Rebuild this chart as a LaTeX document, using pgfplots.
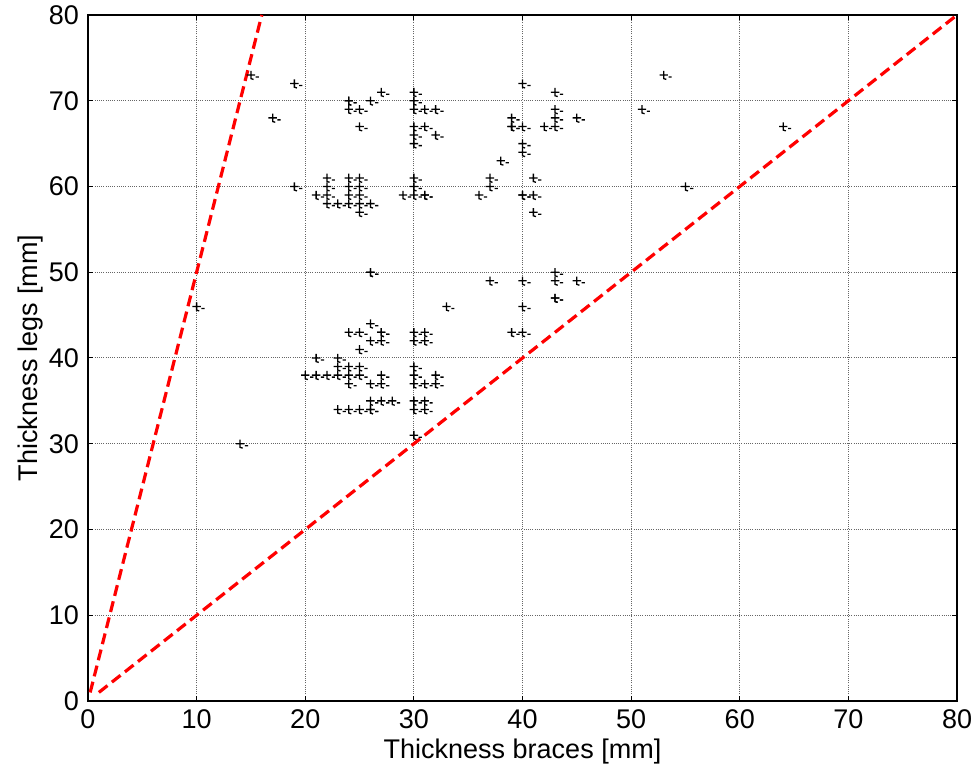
\documentclass[border=0pt]{standalone}
\usepackage{fontspec}
\setmainfont{Liberation Sans}
\usepackage{pgfplots}
\pgfplotsset{compat=1.18}

% marker like the MATLAB one: a plus with a small foot and dash
\pgfdeclareplotmark{tplus}{%
  \pgfpathmoveto{\pgfqpoint{-2.1pt}{0pt}}\pgfpathlineto{\pgfqpoint{2.1pt}{0pt}}%
  \pgfpathmoveto{\pgfqpoint{0pt}{2.1pt}}\pgfpathlineto{\pgfqpoint{0pt}{-1.8pt}}%
  \pgfpathlineto{\pgfqpoint{1.3pt}{-2.2pt}}%
  \pgfpathmoveto{\pgfqpoint{2.4pt}{-1.0pt}}\pgfpathlineto{\pgfqpoint{4.0pt}{-1.0pt}}%
  \pgfusepathqstroke}

\pgfplotstableread{
x y
15 73
19 72
17 68
19 60
24 70
24 70
24 69
25 69
25 67
26 70
27 71
30 71
30 70
30 69
30 67
30 66
30 65
31 69
32 69
31 67
32 66
21 59
22 61
22 60
22 59
22 58
23 58
24 61
24 60
24 59
24 58
25 61
25 60
25 59
25 58
25 57
26 58
29 59
30 61
30 60
30 59
31 59
31 59
40 72
43 71
53 73
51 69
43 69
43 68
43 67
42 67
45 68
39 68
39 67
39 67
40 67
40 65
40 64
38 63
37 61
37 60
36 59
40 59
40 59
41 59
41 61
41 57
64 67
55 60
37 49
40 49
43 50
43 49
43 47
43 47
45 49
33 46
40 46
39 43
40 43
26 50
26 50
10 46
14 30
26 44
24 43
25 43
26 42
27 43
27 43
27 42
25 41
30 43
31 43
30 42
31 42
21 40
23 40
23 39
20 38
21 38
22 38
23 38
24 38
25 38
24 39
25 39
24 37
26 37
27 37
27 38
30 39
30 38
30 37
31 37
32 38
32 37
23 34
24 34
25 34
26 34
26 34
26 35
27 35
28 35
30 35
31 35
30 34
31 34
30 31
}\braces

\begin{document}
\begin{tikzpicture}
\begin{axis}[
  name=ax,
  scale only axis,
  width=434.5pt,
  height=343pt,
  xmin=0, xmax=80,
  ymin=0, ymax=80,
  xtick={0,10,...,80},
  ytick={0,10,...,80},
  tick align=inside,
  major tick length=2.5pt,
  tick style={black, line width=0.5pt},
  grid=major,
  grid style={dash pattern=on 0.5pt off 0.6pt, black!60, line width=0.5pt},
  axis line style={black, line width=0.8pt},
  /pgf/number format/assume math mode=true,
  tick label style={font=\fontsize{13.5}{16}\selectfont},
  label style={font=\fontsize{13.5}{16}\selectfont},
  xlabel={Thickness braces [mm]},
  ylabel={Thickness legs [mm]},
  xticklabel style={yshift=-1pt},
  yticklabel style={xshift=-1pt},
  xlabel style={yshift=2pt},
  ylabel style={yshift=-4pt},
]
\addplot[only marks, mark=tplus, mark options={black, line width=0.65pt}] table {\braces};
\addplot[red, line width=1.6pt, dash pattern=on 5.5pt off 2.8pt] coordinates {(0.2,1) (16,80)};
\addplot[red, line width=1.6pt, dash pattern=on 5.5pt off 2.8pt] coordinates {(1,1) (80,80)};
\end{axis}
\pgfresetboundingbox
\path ([xshift=-44pt,yshift=-38.5pt]ax.south west) rectangle ([xshift=9.5pt,yshift=7.5pt]ax.north east);
\end{tikzpicture}
\end{document}
